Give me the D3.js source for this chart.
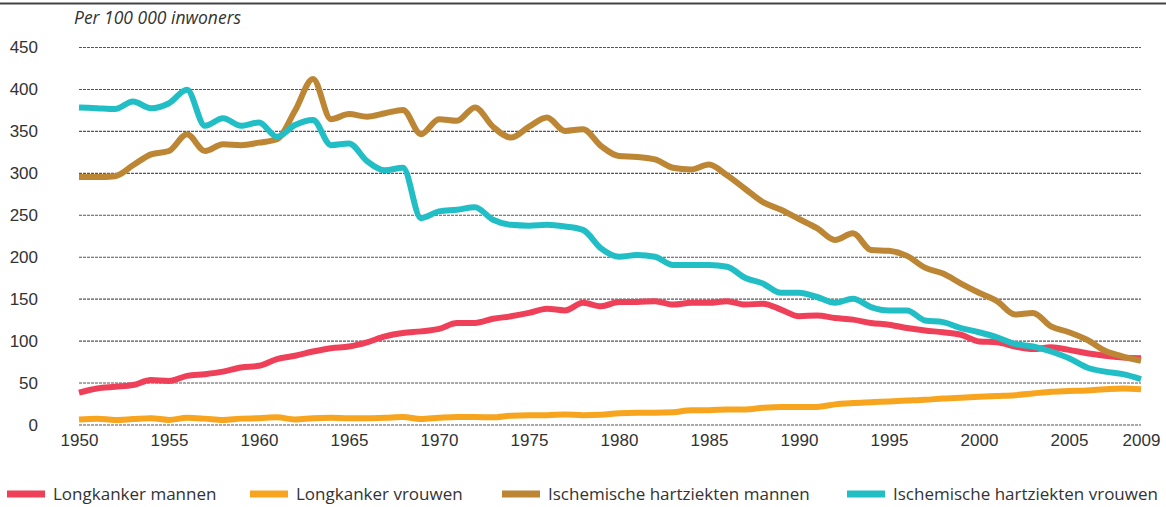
<!DOCTYPE html>
<html>
<head>
<meta charset="utf-8">
<script src="https://cdn.jsdelivr.net/npm/d3@7"></script>
<style>
  body { margin: 0; background: #fff; }
  svg { display: block; font-family: "Open Sans", "Noto Sans", sans-serif; }
  .tick text { fill: #333; font-size: 17px; }
  .legend text { fill: #333; font-size: 17px; }
</style>
</head>
<body>
<svg id="chart" width="1166" height="507"></svg>
<script>
const years = d3.range(1950, 2010);

const longkankerMannen = [38, 43, 45, 47, 53, 52, 58, 60, 63, 68, 70, 78, 82, 87, 91, 93, 98, 105, 109, 111,
    114, 121, 121, 126, 129, 133, 138, 136, 145, 141, 146, 146, 147, 143, 145, 145, 147, 143, 144, 137,
    129, 130, 127, 125, 121, 119, 115, 112, 110, 107, 99, 98, 93, 90, 92, 89, 85, 82, 80, 79];

const longkankerVrouwen = [6, 7, 5.5, 6.5, 7.5, 5.5, 8, 7, 5.5, 7, 7.5, 8.5, 6, 7.5, 8, 7.5, 7.5, 8, 9, 6.5,
    8, 9, 9, 8.5, 10.5, 11, 11, 12, 11, 11.5, 13.5, 14, 14, 14.5, 17, 17, 18, 18, 20, 21,
    21, 21, 24, 25.5, 26.5, 27.5, 28.5, 29.5, 31, 32, 33, 34, 35, 37, 39, 40, 40.5, 42, 43, 42];

const hartMannen = [295, 295, 296, 309, 322, 326, 346, 326, 334, 333, 336, 340, 374, 412, 364, 370, 367, 371, 375, 346,
    364, 362, 378, 355, 342, 355, 366, 350, 352, 332, 320, 319, 316, 306, 304, 310, 297, 281, 265, 256,
    245, 234, 220, 228, 208, 207, 201, 187, 180, 168, 157, 147, 131, 133, 117, 110, 101, 88, 81, 76];

const hartVrouwen = [378, 377, 376, 385, 377, 383, 399, 356, 365, 356, 360, 343, 357, 363, 333, 335, 314, 303, 306, 246,
    254, 256, 259, 244, 238, 237, 238, 236, 232, 210, 200, 202, 200, 190, 190, 190, 188, 175, 168, 157,
    157, 152, 145, 150, 140, 136, 136, 124, 122, 115, 110, 104, 96, 93, 87, 79, 68, 63, 60, 54];

const xTicks = [1950, 1955, 1960, 1965, 1970, 1975, 1980, 1985, 1990, 1995, 2000, 2005, 2009];
const yTicks = [0, 50, 100, 150, 200, 250, 300, 350, 400, 450];

const series = [
    {name: "Longkanker mannen", color: "#ee4159", values: longkankerMannen},
    {name: "Longkanker vrouwen", color: "#f7a51e", values: longkankerVrouwen},
    {name: "Ischemische hartziekten mannen", color: "#bc8634", values: hartMannen},
    {name: "Ischemische hartziekten vrouwen", color: "#22bec6", values: hartVrouwen}
];

const svg = d3.select("#chart");
const x = d3.scaleLinear().domain([1950, 2009]).range([79, 1141]);
const y = d3.scaleLinear().domain([0, 450]).range([424.5, 47]);

// top rule (title above is cut off)
svg.append("line")
    .attr("x1", 0).attr("x2", 1166)
    .attr("y1", 3.5).attr("y2", 3.5)
    .attr("stroke", "#444").attr("stroke-width", 2);

svg.append("text")
    .attr("x", 74).attr("y", 24)
    .attr("fill", "#333")
    .style("font-size", "17.5px")
    .style("font-style", "italic")
    .text("Per 100 000 inwoners");

// gridlines + y labels
const yAxis = svg.append("g")
    .attr("class", "y-axis")
    .attr("transform", "translate(79,0)")
    .call(d3.axisLeft(y).tickValues(yTicks).tickSize(-(1141 - 79)).tickPadding(41).tickFormat(d3.format("d")));
yAxis.select(".domain").remove();
yAxis.selectAll(".tick line")
    .attr("stroke", "#555")
    .attr("stroke-width", 1.1)
    .attr("stroke-dasharray", "3,1");
yAxis.selectAll(".tick text").attr("dy", "0.35em");

// x labels
const xAxis = svg.append("g")
    .attr("class", "x-axis")
    .attr("transform", "translate(0,424.5)")
    .call(d3.axisBottom(x).tickValues(xTicks).tickSize(0).tickPadding(9).tickFormat(d3.format("d")));
xAxis.select(".domain").remove();

const line = d3.line()
    .x((d, i) => x(years[i]))
    .y(d => y(d))
    .curve(d3.curveMonotoneX);

svg.append("g")
    .selectAll("path")
    .data(series)
    .join("path")
    .attr("fill", "none")
    .attr("stroke", d => d.color)
    .attr("stroke-width", 6)
    .attr("stroke-linejoin", "round")
    .attr("stroke-linecap", "butt")
    .attr("d", d => line(d.values));

// legend
const legendX = [7, 250, 502, 847];
const legend = svg.append("g")
    .attr("class", "legend")
    .selectAll("g")
    .data(series)
    .join("g")
    .attr("transform", (d, i) => `translate(${legendX[i]},494)`);

legend.append("rect")
    .attr("x", 0).attr("y", -3.5)
    .attr("width", 38).attr("height", 7)
    .attr("fill", d => d.color);

legend.append("text")
    .attr("x", 46).attr("y", 0)
    .attr("dy", "0.35em")
    .text(d => d.name);
</script>
</body>
</html>
